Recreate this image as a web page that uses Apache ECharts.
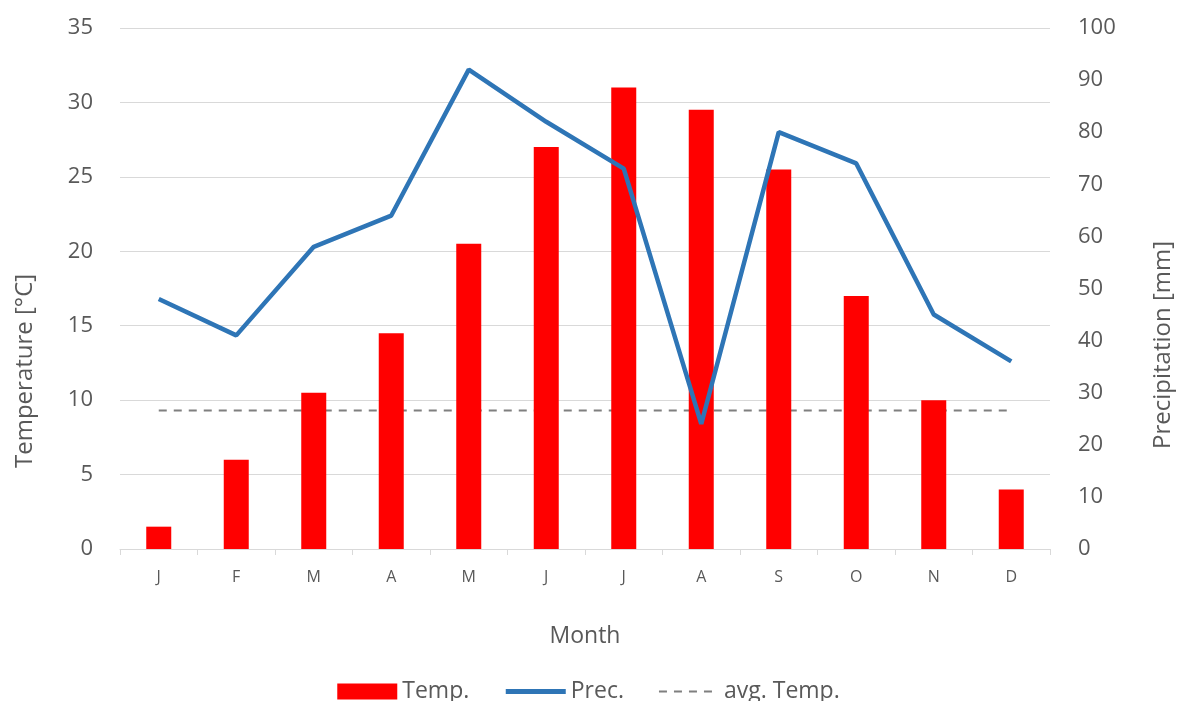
<!DOCTYPE html>
<html>
<head>
<meta charset="utf-8">
<script src="https://cdn.jsdelivr.net/npm/echarts@6/dist/echarts.min.js"></script>
<style>
  html, body { margin: 0; padding: 0; background: #fff; }
  #chart { width: 1177px; height: 701px; }
</style>
</head>
<body>
<div id="chart"></div>
<script>
const months = ['J', 'F', 'M', 'A', 'M', 'J', 'J', 'A', 'S', 'O', 'N', 'D'];
const temp = [1.5, 6, 10.5, 14.5, 20.5, 27, 31, 29.5, 25.5, 17, 10, 4];
const prec = [48, 41, 58, 64, 92, 82, 73, 24, 80, 74, 45, 36];
const avgTemp = [9.3, 9.3, 9.3, 9.3, 9.3, 9.3, 9.3, 9.3, 9.3, 9.3, 9.3, 9.3];

const font = 'Open Sans';
const textColor = '#595959';

const chart = echarts.init(document.getElementById('chart'));

const option = {
    animation: false,
    backgroundColor: '#fff',
    textStyle: { fontFamily: font, color: textColor },
    grid: { left: 120, right: 127, top: 28, bottom: 152 },
    legend: {
        top: 675,
        left: 'center',
        itemWidth: 60,
        itemHeight: 16,
        itemGap: 34,
        textStyle: { fontFamily: font, fontSize: 23, color: textColor },
        data: [
            { name: 'Temp.', icon: 'rect' },
            { name: 'Prec.', itemStyle: { opacity: 0 }, lineStyle: { width: 5 } },
            { name: 'avg. Temp.', itemStyle: { opacity: 0 }, lineStyle: { width: 2 } }
        ]
    },
    xAxis: {
        type: 'category',
        data: months,
        name: 'Month',
        nameLocation: 'middle',
        nameGap: 76,
        nameTextStyle: { fontFamily: font, fontSize: 23, color: textColor },
        axisLine: { lineStyle: { color: '#D9D9D9' } },
        axisTick: { show: true, length: 6, lineStyle: { color: '#D9D9D9' } },
        axisLabel: { fontFamily: font, fontSize: 16, color: textColor, margin: 20 }
    },
    yAxis: [
        {
            type: 'value',
            min: 0,
            max: 35,
            interval: 5,
            axisLine: { show: false },
            axisTick: { show: false },
            axisLabel: { fontFamily: font, fontSize: 22, color: textColor, margin: 27 },
            splitLine: { lineStyle: { color: '#D9D9D9' } }
        },
        {
            type: 'value',
            min: 0,
            max: 100,
            interval: 10,
            position: 'right',
            axisLine: { show: false },
            axisTick: { show: false },
            axisLabel: { fontFamily: font, fontSize: 22, color: textColor, margin: 28 },
            splitLine: { show: false }
        }
    ],
    graphic: [
        {
            type: 'text',
            x: 13,
            y: 468,
            rotation: Math.PI / 2,
            style: { text: 'Temperature [°C]', font: '24px "Open Sans"', fill: textColor }
        },
        {
            type: 'text',
            x: 1151,
            y: 449,
            rotation: Math.PI / 2,
            style: { text: 'Precipitation [mm]', font: '24px "Open Sans"', fill: textColor }
        }
    ],
    series: [
        {
            name: 'Temp.',
            type: 'bar',
            data: temp,
            barWidth: 25,
            itemStyle: { color: '#FF0000' }
        },
        {
            name: 'Prec.',
            type: 'line',
            yAxisIndex: 1,
            data: prec,
            symbol: 'none',
            lineStyle: { color: '#2E75B6', width: 4.5 },
            itemStyle: { color: '#2E75B6' }
        },
        {
            name: 'avg. Temp.',
            type: 'line',
            data: avgTemp,
            symbol: 'none',
            z: 1,
            lineStyle: { color: '#7F7F7F', width: 2, type: [8, 7] },
            itemStyle: { color: '#7F7F7F' }
        }
    ]
};

chart.setOption(option);
</script>
</body>
</html>
